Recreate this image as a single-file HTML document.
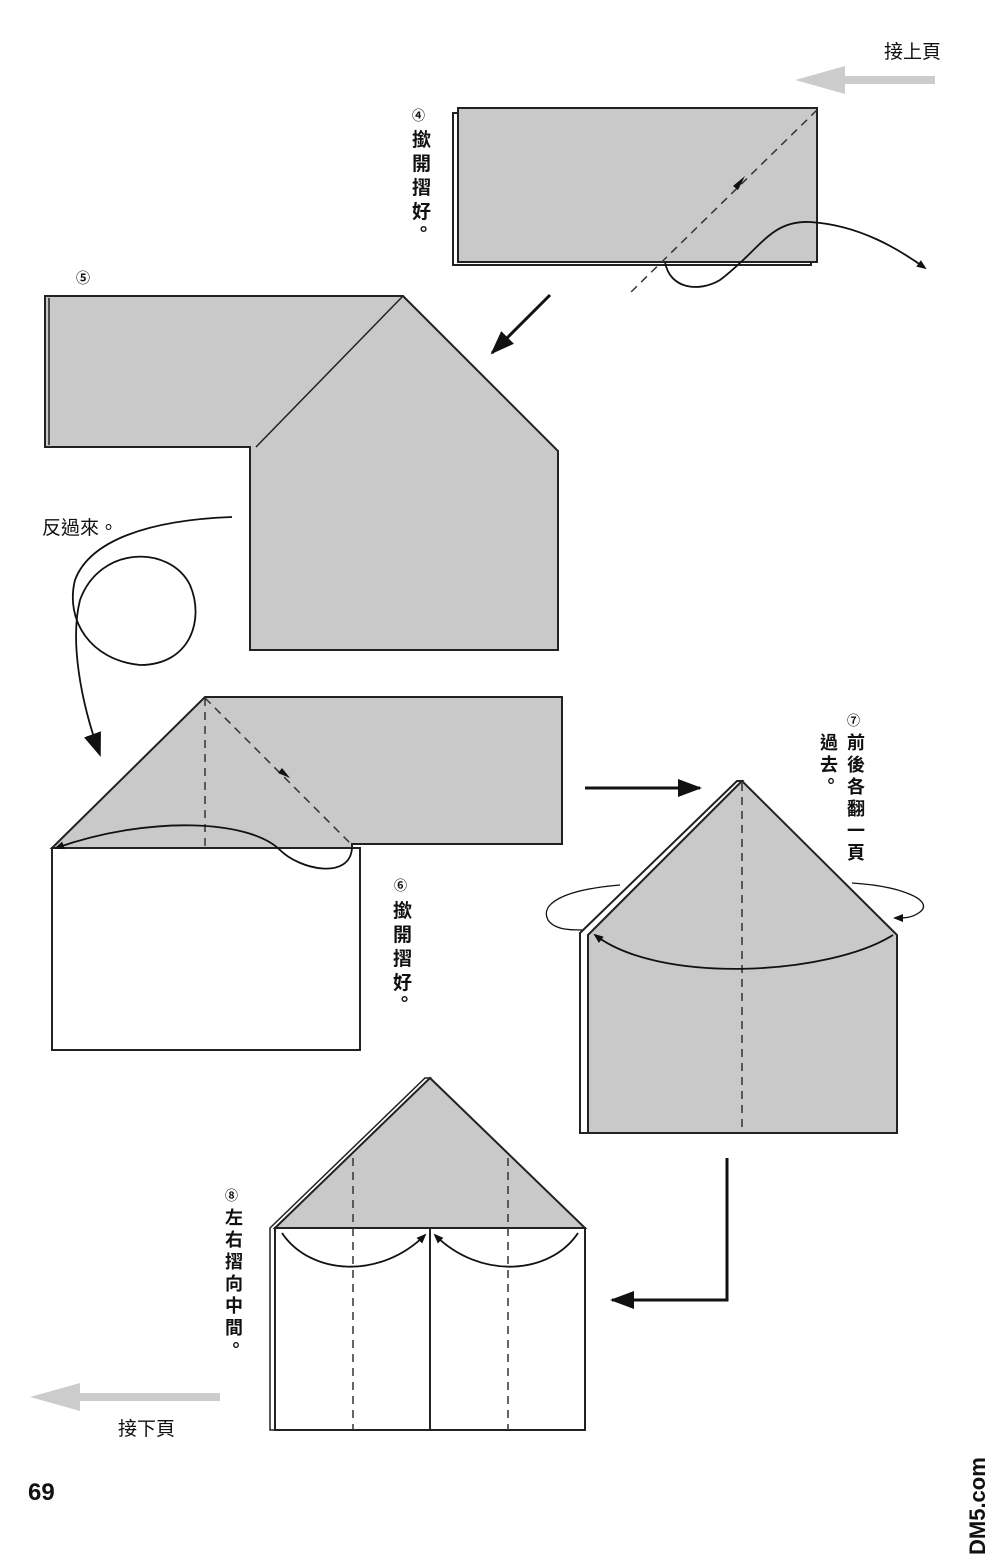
<!DOCTYPE html><html><head><meta charset="utf-8"><style>body{margin:0;background:#fff}svg{display:block}text{font-family:"Liberation Sans","Noto Sans CJK TC",sans-serif;fill:#111}</style></head><body>
<svg width="1000" height="1567" viewBox="0 0 1000 1567" xmlns="http://www.w3.org/2000/svg">
<defs>
<marker id="ah" markerWidth="10" markerHeight="10" refX="8" refY="5" orient="auto" markerUnits="userSpaceOnUse"><path d="M0,1 L10,5 L0,9 Z" fill="#111"/></marker>
<marker id="ab" markerWidth="24" markerHeight="24" refX="22" refY="12" orient="auto" markerUnits="userSpaceOnUse"><path d="M0,3 L24,12 L0,21 Z" fill="#111"/></marker>
</defs>
<text x="884" y="58" font-size="19">接上頁</text>
<path d="M935,80 L840,80" stroke="#ccc" stroke-width="8"/>
<path d="M795,80 L845,66 L845,94 Z" fill="#ccc"/>
<rect x="453" y="113" width="358" height="152" fill="#fff" stroke="#222" stroke-width="2"/>
<rect x="458" y="108" width="359" height="154" fill="#c9c9c9" stroke="#222" stroke-width="2"/>
<path d="M817,110 L630,293" stroke="#333" stroke-width="1.5" stroke-dasharray="8,6"/>
<path d="M745,176 L733,186 L738,190Z" fill="#111"/>
<path d="M665,262 C670,290 700,292 720,280 C760,250 770,220 810,222 C860,225 900,250 925,268" fill="none" stroke="#111" stroke-width="1.8" marker-end="url(#ah)"/>
<text x="412" y="120" font-size="13" font-weight="bold">④</text>
<text font-size="19" font-weight="bold"><tspan x="412" y="146">撳</tspan><tspan x="412" y="170">開</tspan><tspan x="412" y="194">摺</tspan><tspan x="412" y="218">好</tspan><tspan x="414" y="236">。</tspan></text>
<path d="M550,295 L492,353" stroke="#111" stroke-width="3" marker-end="url(#ab)"/>
<text x="76" y="283" font-size="14" font-weight="bold">⑤</text>
<path d="M45,296 L403,296 L558,451 L558,650 L250,650 L250,447 L45,447 Z" fill="#c9c9c9" stroke="#222" stroke-width="2"/>
<path d="M403,296 L256,447 M49,298 L49,445" stroke="#222" stroke-width="1.5" fill="none"/>
<text x="42" y="534" font-size="19">反過來。</text>
<path d="M232,517 C150,520 90,540 75,580 C65,620 90,660 140,665 C190,665 205,620 190,585 C170,545 100,545 80,600 C70,640 80,700 100,755" fill="none" stroke="#111" stroke-width="1.8" marker-end="url(#ab)"/>
<path d="M52,848 L205,697 L562,697 L562,844 L352,844 L352,848 Z" fill="#c9c9c9" stroke="#222" stroke-width="2"/>
<rect x="52" y="848" width="308" height="202" fill="#fff" stroke="#222" stroke-width="2"/>
<path d="M205,698 L205,848 M205,698 L352,845" stroke="#333" stroke-width="1.5" stroke-dasharray="8,6"/>
<path d="M290,778 L282,768 L278,773Z" fill="#111"/>
<path d="M352,848 C350,880 300,870 280,850 C250,820 150,815 56,848" fill="none" stroke="#111" stroke-width="1.8" marker-end="url(#ah)"/>
<text x="394" y="890" font-size="13" font-weight="bold">⑥</text>
<text font-size="19" font-weight="bold"><tspan x="393" y="917">撳</tspan><tspan x="393" y="941">開</tspan><tspan x="393" y="965">摺</tspan><tspan x="393" y="989">好</tspan><tspan x="395" y="1006">。</tspan></text>
<path d="M585,788 L700,788" stroke="#111" stroke-width="3" marker-end="url(#ab)"/>
<path d="M580,933 L737,781 L742,781 L588,935 L588,1133 L580,1133 Z" fill="#fff" stroke="#222" stroke-width="2"/>
<path d="M742,781 L897,935 L897,1133 L588,1133 L588,935 Z" fill="#c9c9c9" stroke="#222" stroke-width="2"/>
<path d="M742,783 L742,1133" stroke="#333" stroke-width="1.5" stroke-dasharray="8,6"/>
<path d="M893,935 C830,975 660,985 595,935" fill="none" stroke="#111" stroke-width="1.8" marker-end="url(#ah)"/>
<path d="M620,885 C560,890 540,905 548,920 C555,930 570,930 582,930" fill="none" stroke="#111" stroke-width="1.3"/>
<path d="M852,883 C900,886 935,900 920,912 C912,918 905,918 895,918" fill="none" stroke="#111" stroke-width="1.3" marker-end="url(#ah)"/>
<text x="847" y="725" font-size="13" font-weight="bold">⑦</text>
<text font-size="18" font-weight="bold"><tspan x="847" y="749">前</tspan><tspan x="847" y="771">後</tspan><tspan x="847" y="793">各</tspan><tspan x="847" y="815">翻</tspan><tspan x="847" y="837">一</tspan><tspan x="847" y="859">頁</tspan></text>
<text font-size="18" font-weight="bold"><tspan x="820" y="749">過</tspan><tspan x="820" y="771">去</tspan><tspan x="822" y="788">。</tspan></text>
<path d="M727,1158 L727,1300 L612,1300" fill="none" stroke="#111" stroke-width="3" marker-end="url(#ab)"/>
<path d="M270,1228 L425,1078 L430,1078 L275,1228 L275,1430 L270,1430 Z" fill="#fff" stroke="#222" stroke-width="1.5"/>
<path d="M430,1078 L585,1228 L275,1228 Z" fill="#c9c9c9" stroke="#222" stroke-width="2"/>
<rect x="275" y="1228" width="310" height="202" fill="#fff" stroke="#222" stroke-width="2"/>
<path d="M430,1228 L430,1430" stroke="#222" stroke-width="2"/>
<path d="M353,1158 L353,1430 M508,1158 L508,1430" stroke="#333" stroke-width="1.5" stroke-dasharray="8,6"/>
<path d="M282,1233 C310,1275 380,1280 425,1235" fill="none" stroke="#111" stroke-width="1.8" marker-end="url(#ah)"/>
<path d="M578,1233 C550,1275 480,1280 435,1235" fill="none" stroke="#111" stroke-width="1.8" marker-end="url(#ah)"/>
<text x="225" y="1200" font-size="13" font-weight="bold">⑧</text>
<text font-size="18" font-weight="bold"><tspan x="225" y="1224">左</tspan><tspan x="225" y="1246">右</tspan><tspan x="225" y="1268">摺</tspan><tspan x="225" y="1290">向</tspan><tspan x="225" y="1312">中</tspan><tspan x="225" y="1334">間</tspan><tspan x="227" y="1352">。</tspan></text>
<path d="M220,1397 L75,1397" stroke="#ccc" stroke-width="8"/>
<path d="M30,1397 L80,1383 L80,1411 Z" fill="#ccc"/>
<text x="118" y="1435" font-size="19">接下頁</text>
<text x="28" y="1500" font-size="24" font-weight="bold">69</text>
<text x="0" y="0" font-size="22" font-weight="bold" fill="#333" transform="translate(985,1555) rotate(-90)">DM5.com</text>
</svg>
</body></html>
